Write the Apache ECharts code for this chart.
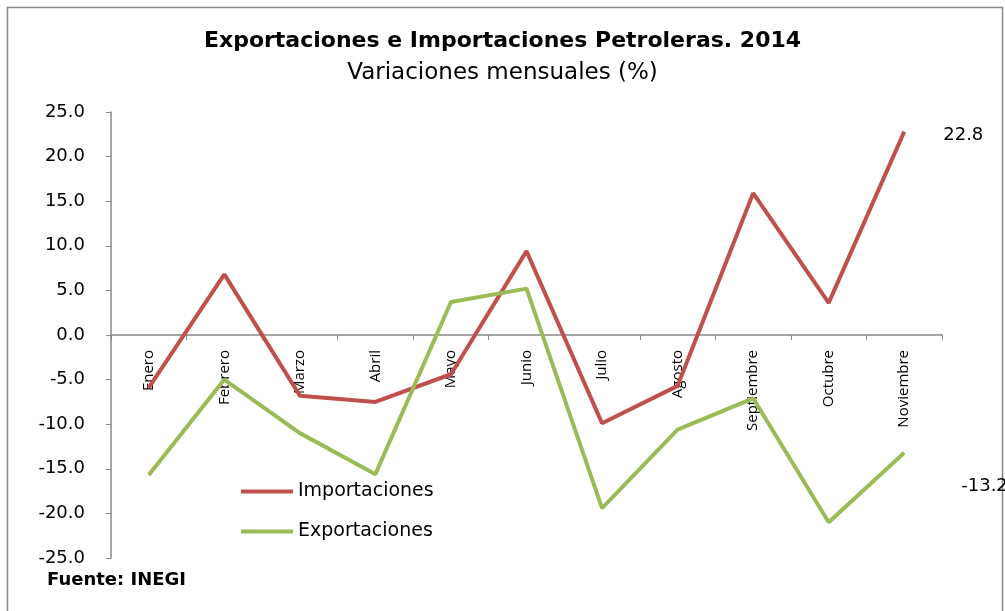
<!DOCTYPE html>
<html>
<head>
<meta charset="utf-8">
<script src="https://cdn.jsdelivr.net/npm/echarts@6/dist/echarts.min.js"></script>
<style>
  html, body { margin: 0; padding: 0; background: #fff; }
  #chart { width: 1005px; height: 611px; }
</style>
</head>
<body>
<div id="chart"></div>
<script>
var meses = ['Enero', 'Febrero', 'Marzo', 'Abril', 'Mayo', 'Junio', 'Julio', 'Agosto', 'Septiembre', 'Octubre', 'Noviembre'];
var importaciones = [-5.9, 6.8, -6.8, -7.5, -4.4, 9.4, -9.9, -5.7, 15.9, 3.6, 22.8];
var exportaciones = [-15.7, -5.0, -11.0, -15.6, 3.7, 5.2, -19.4, -10.6, -7.1, -21.0, -13.2];

// value written next to the last point of a line
let etiquetaFinal = (offset) => ({
  show: true, offset: offset, distance: 5,
  formatter: (p) => Number(p.value).toFixed(1),
  fontFamily: 'DejaVu Sans', fontSize: 18, color: '#000'
});

var myChart = echarts.init(document.getElementById('chart'));
option = {
  animation: false,
  graphic: [{
    type: 'rect',
    shape: { x: 7.5, y: 7.5, width: 995, height: 620 },
    style: { fill: 'none', stroke: '#888', lineWidth: 1.5 }
  }, {
    type: 'text', left: 47, top: 571,
    style: { text: 'Fuente: INEGI', font: 'bold 18px "DejaVu Sans"', fill: '#000' }
  }],
  title: {
    text: 'Exportaciones e Importaciones Petroleras. 2014',
    subtext: 'Variaciones mensuales (%)',
    left: 'center', top: 25, itemGap: 10,
    textStyle: { fontFamily: 'DejaVu Sans', fontWeight: 'bold', fontSize: 22, color: '#000' },
    subtextStyle: { fontFamily: 'DejaVu Sans', fontSize: 23, color: '#000' }
  },
  legend: {
    orient: 'vertical', left: 236, top: 477, itemGap: 21,
    itemWidth: 52, itemHeight: 4,
    icon: 'rect',
    textStyle: { fontFamily: 'DejaVu Sans', fontSize: 19, color: '#000' },
    data: ['Importaciones', 'Exportaciones']
  },
  grid: { left: 111, right: 63, top: 112, bottom: 53, outerBoundsMode: 'none', containLabel: false },
  xAxis: {
    type: 'category',
    data: meses,
    boundaryGap: true,
    position: 'bottom',
    offset: -223,
    axisLine: { onZero: false, lineStyle: { color: '#888', width: 1.5 } },
    axisTick: { show: true, interval: 0, length: 5, lineStyle: { color: '#888' } },
    axisLabel: {
      rotate: 90, interval: 0, margin: 15,
      fontFamily: 'Open Sans', fontSize: 15, color: '#000'
    }
  },
  yAxis: {
    type: 'value',
    min: -25, max: 25, interval: 5,
    axisLine: { show: true, lineStyle: { color: '#888', width: 1.5 } },
    axisTick: { show: true, length: 5, lineStyle: { color: '#888' } },
    splitLine: { show: false },
    axisLabel: {
      formatter: (v) => v.toFixed(1), margin: 26,
      fontFamily: 'DejaVu Sans', fontSize: 18, color: '#000'
    }
  },
  series: [{
    name: 'Importaciones', type: 'line',
    data: importaciones,
    color: '#C0504D', symbol: 'none',
    lineStyle: { width: 4 },
    endLabel: etiquetaFinal([34, 4])
  }, {
    name: 'Exportaciones', type: 'line',
    data: exportaciones,
    color: '#9BBB59', symbol: 'none',
    lineStyle: { width: 4 },
    endLabel: etiquetaFinal([52, 34])
  }]
};
myChart.setOption(option);
</script>
</body>
</html>
